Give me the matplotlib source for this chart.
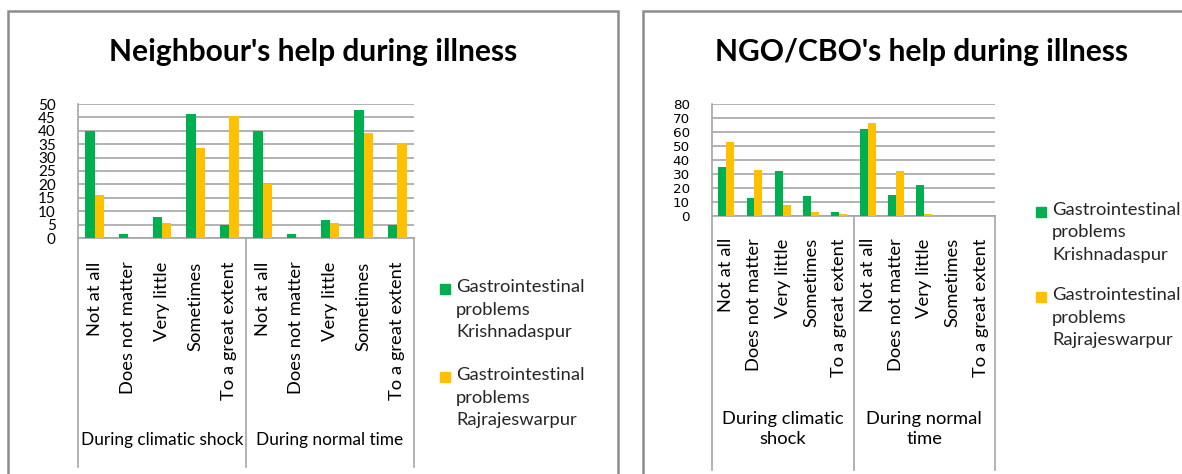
import matplotlib
matplotlib.use('Agg')
import matplotlib.pyplot as plt
from matplotlib.patches import Rectangle
from matplotlib.transforms import blended_transform_factory

# ---- data ----
answers = ["Not at all", "Does not matter", "Very little", "Sometimes", "To a great extent"]
periods_left = ["During climatic shock", "During normal time"]
periods_right = ["During climatic\nshock", "During normal\ntime"]
series_names = ["Gastrointestinal\nproblems\nKrishnadaspur",
                "Gastrointestinal\nproblems\nRajrajeswarpur"]

neigh_krishna = [40, 1.5, 8, 46.3, 5, 40, 1.5, 6.6, 47.8, 5]
neigh_rajraj = [16, 0, 5.5, 33.5, 45.5, 20, 0, 5.5, 39.2, 35.4]
ngo_krishna = [35, 13, 32.5, 14, 3, 62, 15, 22, 0, 0]
ngo_rajraj = [52.6, 33.2, 7.7, 2.9, 1.2, 66.4, 31.8, 1.2, 0, 0]

GREEN = "#00B050"
YELLOW = "#FFC000"
GRID = "#A6A6A6"
FONT = "Lato"
TXT = 13.2

W, H = 1182, 474
fig = plt.figure(figsize=(W / 100, H / 100), dpi=100)


def box(x0, y0, x1, y1):
    return [x0 / W, 1 - y1 / H, (x1 - x0) / W, (y1 - y0) / H]


# panel frames
for x0, x1 in [(8, 618), (643, 1200)]:
    fig.add_artist(Rectangle((x0 / W, -0.1), (x1 - x0) / W, 1.1 - 11.5 / H,
                             transform=fig.transFigure, fill=False,
                             edgecolor="#8C8C8C", linewidth=1.8))


def draw_panel(rect, a, b, ymax, ystep, groups, group_size, tick_font, tick_size,
               ytick_pad, xlab_pad, sep_bottom, group_y, title, title_xy):
    ax = fig.add_axes(rect)
    n = len(a)
    xs = list(range(n))
    w = 0.28
    ax.bar([x - w / 2 for x in xs], a, width=w, color=GREEN, zorder=3)
    ax.bar([x + w / 2 for x in xs], b, width=w, color=YELLOW, zorder=3)
    ax.set_xlim(-0.5, n - 0.5)
    ax.set_ylim(0, ymax)
    ax.set_yticks(range(0, ymax + 1, ystep))
    ax.yaxis.grid(True, color=GRID, linewidth=1.2, zorder=0)
    ax.set_axisbelow(True)
    for s in ["top", "right"]:
        ax.spines[s].set_visible(False)
    for s in ["left", "bottom"]:
        ax.spines[s].set_color(GRID)
        ax.spines[s].set_linewidth(1.2)
    ax.tick_params(axis="y", length=0, pad=ytick_pad)
    for t in ax.get_yticklabels():
        t.set_fontfamily(tick_font)
        t.set_fontsize(tick_size)
    ax.set_xticks(xs)
    ax.set_xticklabels(answers * 2, rotation=90, fontfamily=FONT, fontsize=TXT)
    ax.tick_params(axis="x", length=0, pad=xlab_pad)

    trans = blended_transform_factory(ax.transData, ax.transAxes)
    half = n // 2
    for xv in [-0.5, half - 0.5, n - 0.5]:
        ax.plot([xv, xv], [0, sep_bottom], transform=trans, color=GRID,
                linewidth=1.2, clip_on=False)
    for i, g in enumerate(groups):
        ax.text(i * half + (half - 1) / 2, group_y, g, transform=trans,
                ha="center", va="center", fontfamily=FONT, fontsize=group_size,
                linespacing=1.3)
    fig.text(title_xy[0] / W, 1 - title_xy[1] / H, title, ha="center",
             va="center", fontfamily=FONT, fontweight="bold", fontsize=21.6)
    return ax


def draw_legend(x, ys):
    for y, col, name in zip(ys, [GREEN, YELLOW], series_names):
        fig.add_artist(Rectangle(((x - 16) / W, 1 - (y + 5) / H), 10 / W, 10 / H,
                                 transform=fig.transFigure, color=col))
        fig.text(x / W, 1 - (y - 10) / H, name, ha="left", va="top",
                 fontfamily=FONT, fontsize=TXT, linespacing=1.5,
                 color="#262626")


# left panel: neighbours
draw_panel(box(78, 104, 414, 238), neigh_krishna, neigh_rajraj, 50, 5,
           periods_left, 12.4, FONT, 11, 16, 17, -(467 - 238) / 134,
           -(440 - 238) / 134, "Neighbour's help during illness", (313, 52))
draw_legend(456, [289, 377])

# right panel: NGO/CBO
draw_panel(box(712, 104, 995, 216), ngo_krishna, ngo_rajraj, 80, 10,
           periods_right, TXT, "DejaVu Sans", 9.7, 16, 16, -(470 - 216) / 112,
           -(429 - 216) / 112, "NGO/CBO's help during illness", (922, 52))
draw_legend(1052, [212, 297])

plt.savefig("out.png", dpi=100)
